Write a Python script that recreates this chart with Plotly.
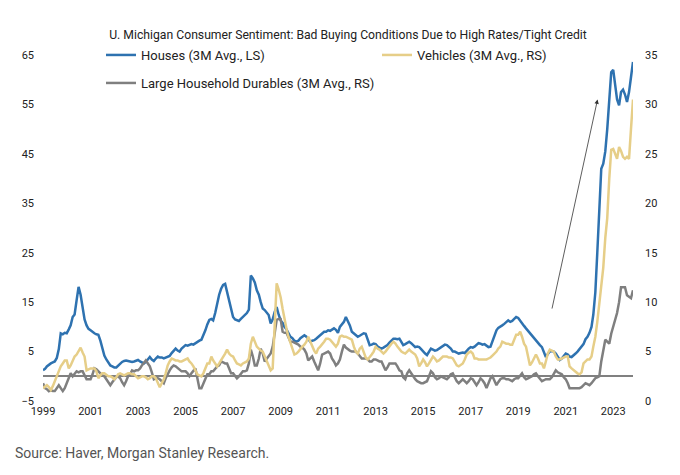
import pandas as pd
import plotly.graph_objects as go

# ---- data (monthly, Jan 1999 - Nov 2023) ----
start_month = "1999-01-01"

houses = [  # left scale
    1.2, 1.5, 2.0, 2.4, 2.6, 2.8, 3.0, 3.7, 5.5, 8.7, 8.5, 8.8,
    8.7, 9.5, 10.3, 12.0, 12.5, 15.4, 18.1, 16.5, 13.5, 11.5, 10.3, 9.6,
    9.3, 8.9, 8.7, 8.5, 8.4, 7.2, 5.9, 4.2, 3.4, 2.8, 2.2, 2.0,
    1.8, 1.8, 2.2, 2.6, 2.9, 3.1, 3.2, 3.1, 3.0, 2.9, 3.0, 3.2,
    3.3, 3.0, 2.8, 2.6, 2.9, 3.3, 3.9, 3.4, 3.1, 3.6, 4.0, 3.8,
    3.8, 3.6, 3.8, 3.9, 4.1, 4.7, 5.2, 5.6, 5.2, 5.0, 5.6, 6.0,
    6.3, 6.2, 6.4, 6.5, 6.4, 6.7, 7.0, 7.2, 7.4, 8.2, 9.3, 10.5,
    11.4, 11.6, 11.3, 12.8, 14.7, 16.5, 17.7, 18.5, 18.7, 17.0, 15.4, 13.5,
    12.0, 11.5, 11.3, 11.2, 11.6, 12.0, 12.5, 12.8, 13.5, 20.4, 19.8, 19.0,
    17.4, 16.5, 15.0, 13.7, 13.4, 12.8, 12.4, 10.7, 11.5, 13.0, 14.0, 12.5,
    11.3, 10.8, 10.0, 9.5, 8.8, 8.0, 7.7, 7.2, 7.0, 7.2, 7.7, 8.0,
    8.3, 8.0, 7.5, 7.0, 7.2, 7.3, 7.6, 8.0, 8.3, 8.8, 9.0, 9.0,
    9.3, 9.2, 9.5, 9.7, 9.4, 8.8, 10.0, 10.5, 11.0, 12.0, 11.2, 10.3,
    9.0, 8.7, 8.3, 8.0, 8.2, 8.5, 8.7, 8.6, 7.5, 6.3, 6.4, 6.6,
    6.5, 6.0, 5.8, 5.6, 5.8, 6.0, 6.3, 6.8, 7.3, 7.6, 7.6, 7.5,
    7.6, 7.0, 6.3, 6.5, 6.8, 7.0, 6.7, 6.2, 5.9, 6.0, 5.9, 5.5,
    5.0, 4.6, 4.3, 5.0, 5.6, 5.4, 5.2, 5.3, 5.6, 6.0, 6.3, 6.4,
    6.3, 6.0, 5.6, 5.0, 5.0, 4.8, 4.6, 4.7, 4.8, 4.7, 5.2, 5.6,
    5.9, 5.8, 6.0, 6.4, 6.7, 6.6, 6.4, 6.5, 6.2, 5.9, 6.0, 7.0,
    8.0, 9.3, 9.8, 10.0, 10.3, 10.6, 11.0, 11.3, 11.0, 11.2, 11.6, 12.0,
    11.8, 11.2, 10.6, 10.2, 9.7, 9.2, 8.6, 8.2, 7.8, 7.3, 6.8, 6.3,
    5.9, 5.0, 3.9, 4.5, 5.0, 5.1, 5.0, 4.6, 4.0, 3.3, 3.6, 4.2,
    4.6, 4.4, 4.0, 3.9, 4.2, 4.6, 5.0, 5.5, 5.9, 6.5, 7.5, 8.0,
    8.8, 10.0, 12.5, 17.0, 25.0, 34.0, 42.0, 43.0, 45.5, 50.0, 56.0, 61.5,
    62.0, 59.0, 56.0, 54.8, 57.5, 58.0, 57.0, 55.5, 57.5, 60.5, 63.6,
]

vehicles = [  # right scale
    1.3, 1.5, 1.6, 1.4, 1.1, 1.5, 2.0, 2.5, 3.1, 3.5, 3.8, 4.1,
    4.1, 3.3, 3.6, 4.1, 4.5, 4.7, 5.0, 5.4, 4.9, 4.5, 3.1, 3.2,
    3.3, 3.3, 3.3, 3.0, 2.3, 2.6, 2.8, 2.8, 2.6, 2.5, 2.5, 2.4,
    2.2, 2.4, 2.7, 2.8, 2.7, 2.6, 2.7, 2.8, 2.8, 2.7, 2.7, 2.5,
    2.3, 2.4, 2.5, 2.5, 2.4, 2.2, 2.3, 2.5, 2.5, 2.3, 1.8, 1.4,
    1.8, 2.2, 2.8, 3.6, 4.0, 4.3, 4.2, 4.1, 4.1, 4.0, 4.0, 4.1,
    4.2, 4.3, 4.0, 3.8, 3.5, 3.0, 2.7, 2.6, 2.5, 2.8, 3.3, 3.8,
    3.8, 4.5, 4.1, 3.8, 3.5, 3.8, 4.1, 4.4, 4.8, 5.2, 4.8, 4.6,
    4.5, 4.1, 3.8, 3.7, 3.6, 3.8, 3.9, 4.0, 4.3, 5.8, 6.5, 6.0,
    5.5, 5.3, 5.1, 5.0, 4.5, 4.0, 3.5, 3.1, 3.3, 8.2, 11.9, 11.3,
    10.5, 9.3, 8.2, 7.3, 6.5, 5.8, 5.3, 4.7, 4.8, 5.0, 5.3, 5.5,
    5.7, 6.0, 6.5, 6.0, 5.5, 5.1, 4.8, 5.3, 5.5, 5.7, 6.0, 6.3,
    6.3, 6.2, 6.0, 5.8, 5.5, 5.8, 6.5, 6.6, 6.5, 6.5, 6.4, 6.3,
    6.2, 5.5, 5.0, 4.8, 5.3, 5.5, 5.0, 4.4, 4.2, 4.4, 4.7, 5.0,
    5.5, 5.3, 5.2, 5.0, 4.8, 5.0, 5.3, 5.5, 5.8, 6.0, 5.8, 5.5,
    5.2, 5.0, 4.9, 4.8, 5.0, 5.2, 5.0, 4.8, 4.7, 4.3, 3.5, 3.8,
    4.2, 3.9, 3.5, 3.8, 4.2, 4.5, 4.3, 4.0, 4.1, 4.3, 4.5, 4.5,
    4.5, 4.4, 4.4, 4.3, 3.9, 3.6, 3.5, 3.7, 3.8, 4.2, 4.7, 4.9,
    5.0, 4.8, 4.3, 4.3, 4.2, 4.2, 4.2, 4.2, 4.2, 4.3, 4.4, 4.6,
    4.8, 5.0, 5.3, 5.5, 6.0, 5.9, 5.8, 5.8, 5.7, 5.7, 6.3, 6.7,
    6.7, 7.0, 6.5, 5.8, 5.5, 4.5, 3.6, 3.9, 4.3, 4.7, 4.3, 3.8,
    3.8, 3.3, 4.0, 4.8, 5.2, 5.1, 5.0, 4.5, 4.2, 4.2, 4.3, 4.4,
    4.5, 4.5, 3.5, 3.3, 3.1, 3.0, 2.8, 2.7, 2.9, 3.8, 4.0, 4.2,
    4.2, 4.5, 5.5, 6.5, 8.0, 9.8, 11.3, 13.5, 16.5, 18.5, 22.5, 25.4,
    25.5, 24.9, 24.5, 25.7, 25.3, 24.7, 24.5, 24.7, 24.5, 27.5, 30.5,
]

durables = [  # right scale
    1.8, 1.3, 1.2, 1.0, 1.1, 1.0, 1.0, 1.3, 1.6, 1.3, 1.0, 1.3,
    1.8, 2.3, 2.8, 2.5, 2.8, 3.0, 2.9, 3.0, 3.0, 2.6, 2.2, 2.2,
    2.2, 2.7, 3.3, 3.2, 3.0, 2.8, 2.6, 2.5, 2.2, 1.9, 1.6, 1.9,
    2.2, 2.4, 2.5, 2.3, 1.9, 1.6, 2.0, 2.5, 2.7, 3.1, 3.0, 3.1,
    3.1, 3.3, 3.6, 3.9, 4.1, 3.8, 3.5, 2.9, 2.2, 2.3, 2.3, 2.2,
    2.0, 1.8, 2.3, 2.8, 3.1, 3.4, 3.6, 3.5, 3.3, 3.2, 3.0, 3.0,
    3.0, 2.8, 2.5, 2.8, 3.1, 3.3, 2.3, 1.3, 1.3, 1.8, 2.3, 2.7,
    2.7, 3.0, 3.0, 3.3, 3.5, 3.6, 4.0, 3.9, 3.8, 3.8, 3.3, 2.8,
    2.8, 2.5, 2.3, 2.5, 2.8, 3.0, 3.0, 3.1, 3.8, 5.2, 4.5, 3.6,
    3.6, 4.3, 5.3, 4.8, 4.0, 4.3, 4.5, 4.8, 5.5, 7.0, 8.2, 8.3,
    8.3, 7.0, 6.9, 6.9, 6.5, 6.0, 6.0, 5.9, 5.8, 5.7, 5.5, 5.4,
    5.2, 4.8, 4.1, 4.3, 4.5, 4.0, 3.5, 3.1, 3.8, 4.7, 4.8, 4.9,
    5.0, 4.8, 4.3, 4.0, 3.6, 3.8, 4.2, 5.0, 5.7, 5.4, 5.2, 5.1,
    5.0, 5.0, 5.0, 4.8, 4.5, 4.3, 4.3, 4.3, 4.2, 4.0, 4.0, 4.2,
    4.2, 4.1, 4.0, 4.0, 3.5, 3.1, 3.4, 3.8, 3.8, 3.8, 3.8, 3.5,
    3.1, 3.0, 2.4, 2.2, 2.8, 3.1, 2.8, 2.4, 2.2, 2.0, 1.9, 1.8,
    1.8, 1.9, 2.0, 2.5, 3.0, 2.8, 2.4, 2.2, 2.3, 2.5, 2.4, 2.3,
    2.2, 2.4, 2.7, 2.8, 2.4, 2.0, 1.8, 2.0, 2.2, 2.0, 1.8, 2.0,
    2.3, 2.2, 1.9, 1.6, 1.9, 2.3, 2.1, 1.8, 1.3, 1.8, 2.3, 2.5,
    2.1, 1.6, 1.9, 2.2, 2.3, 2.3, 2.2, 2.2, 2.1, 2.0, 2.2, 2.3,
    2.3, 2.6, 2.8, 2.4, 2.2, 2.3, 2.4, 2.5, 2.7, 2.8, 2.5, 2.2,
    2.0, 2.1, 2.2, 2.2, 2.2, 2.4, 2.7, 3.1, 2.9, 2.8, 2.7, 2.4,
    2.2, 1.8, 1.3, 1.3, 1.3, 1.3, 1.3, 1.3, 1.4, 1.6, 1.8, 1.7,
    1.6, 1.8, 2.1, 2.3, 2.4, 2.5, 4.0, 5.2, 6.2, 6.0, 5.8, 6.8,
    7.5, 8.3, 8.9, 10.0, 11.5, 11.5, 11.5, 10.7, 10.5, 10.4, 11.2,
]

names = ["Houses (3M Avg., LS)", "Vehicles (3M Avg., RS)",
         "Large Household Durables (3M Avg., RS)"]
colors = ["#2E72B0", "#E6CE88", "#7F7F7F"]

left_range = [-5, 65]
right_range = [0, 35]
arrow_tail = ("2020-05-30", 13.4)
arrow_head = ("2022-05-05", 56.0)

dates = pd.date_range(start_month, periods=len(houses), freq="MS")

# page is shown with an 8px body margin, so the figure is 8px smaller
W, H = 672, 467
ML, MR, MT, MB = 35, 47, 47, 73.5
PH = H - MT - MB
PW = W - ML - MR

FONT = "Roboto"
fig = go.Figure()
fig.add_trace(go.Scatter(x=dates, y=durables, name=names[2], yaxis="y2",
                         mode="lines", line=dict(color=colors[2], width=2.5),
                         legend="legend2"))
fig.add_trace(go.Scatter(x=dates, y=vehicles, name=names[1], yaxis="y2",
                         mode="lines", line=dict(color=colors[1], width=2.5),
                         legend="legend"))
fig.add_trace(go.Scatter(x=dates, y=houses, name=names[0], yaxis="y",
                         mode="lines", line=dict(color=colors[0], width=2.5),
                         legend="legend"))

legend_common = dict(orientation="h", xref="container", yref="container",
                     xanchor="left", yanchor="middle",
                     font=dict(family=FONT, size=13, color="#222"),
                     bgcolor="rgba(0,0,0,0)", itemwidth=30,
                     traceorder="reversed")

fig.update_layout(
    width=W, height=H,
    margin=dict(l=ML, r=MR, t=MT, b=MB, autoexpand=False),
    paper_bgcolor="white", plot_bgcolor="white",
    font=dict(family=FONT, size=11, color="#222"),
    title=dict(text="U. Michigan Consumer Sentiment: Bad Buying Conditions Due to High Rates/Tight Credit",
               xref="container", yref="container", x=340 / W, xanchor="center",
               y=1 - 27 / H, yanchor="middle",
               font=dict(family=FONT, size=12.2, color="#222")),
    legend=dict(**legend_common, x=93 / W, y=1 - 47 / H, entrywidth=231),
    legend2=dict(**legend_common, x=93 / W, y=1 - 75 / H),
    xaxis=dict(range=[dates[0], dates[-1]], tick0="1999-01-01", dtick="M24",
               tickformat="%Y", showgrid=False, zeroline=False, showline=False,
               ticks="", ticklabelstandoff=2,
               tickfont=dict(family=FONT, size=11, color="#222")),
    yaxis=dict(range=left_range, dtick=10, tick0=-5, showgrid=False,
               zeroline=True, zerolinecolor="#808080", zerolinewidth=1.6,
               showline=False, ticks="", ticklabelstandoff=8,
               tickfont=dict(family=FONT, size=11, color="#222")),
    yaxis2=dict(range=right_range, dtick=5, overlaying="y", side="right",
                showgrid=False, zeroline=False, showline=False, ticks="",
                ticklabelstandoff=11,
                tickfont=dict(family=FONT, size=11, color="#222")),
    annotations=[
        dict(x=arrow_head[0], y=arrow_head[1], ax=arrow_tail[0], ay=arrow_tail[1],
             xref="x", yref="y", axref="x", ayref="y", text="", showarrow=True,
             arrowhead=2, arrowsize=1.1, arrowwidth=0.8, arrowcolor="#333"),
        dict(text="Source: Haver, Morgan Stanley Research.", xref="paper", yref="paper",
             x=(5 - ML) / PW, y=(H - MB - 446) / PH, xanchor="left", yanchor="middle",
             showarrow=False, font=dict(family=FONT, size=14, color="#555")),
    ],
)

fig.write_html("out.html")
